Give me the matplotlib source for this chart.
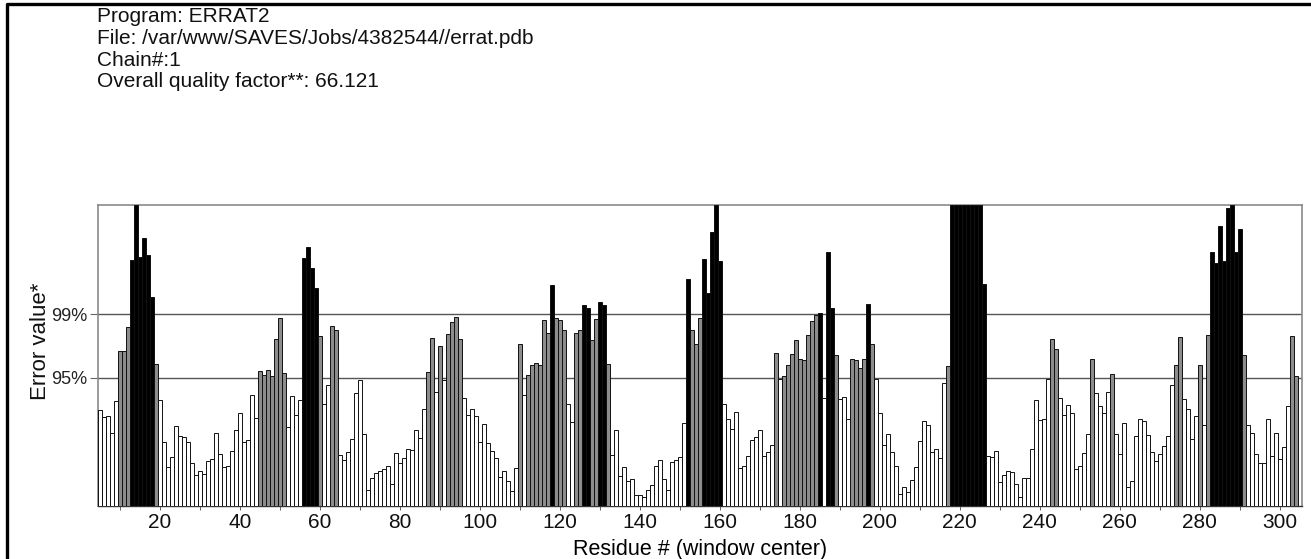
import matplotlib
matplotlib.use("Agg")
import matplotlib.pyplot as plt
from matplotlib.lines import Line2D
import numpy as np

# ---------------- data ----------------
first_residue = 5
error_values = [
    8.59, 7.99, 8.05, 6.59, 9.40, 13.92, 13.92, 16.04, 22.06, 27.00,   # 5-14
    22.36, 24.01, 22.51, 18.77, 12.78, 9.49, 5.75, 3.50, 4.40, 7.18,   # 15-24
    6.26, 6.20, 5.72, 3.89, 2.81, 3.11, 2.90, 4.04, 4.25, 6.53,        # 25-34
    4.64, 3.50, 3.59, 4.97, 6.79, 8.35, 5.72, 5.96, 9.94, 7.90,        # 35-44
    12.09, 11.79, 12.21, 11.64, 14.94, 16.82, 11.97, 7.09, 9.85, 8.14, # 45-54
    9.49, 22.27, 23.20, 21.31, 19.52, 15.27, 9.13, 10.84, 16.16, 15.83,# 55-64
    4.61, 4.16, 4.85, 5.99, 10.18, 11.28, 6.44, 1.47, 2.51, 2.96,      # 65-74
    3.14, 3.29, 3.59, 2.01, 4.76, 3.86, 4.31, 5.15, 5.00, 6.79,        # 75-84
    6.11, 8.74, 12.03, 15.03, 10.24, 14.34, 11.28, 15.39, 16.52, 16.97,# 85-94
    14.97, 9.73, 8.14, 8.74, 8.05, 5.75, 7.33, 5.69, 4.97, 4.31,       # 95-104
    2.57, 3.17, 2.27, 1.38, 3.41, 14.49, 9.94, 11.73, 12.63, 12.84,    # 105-114
    12.69, 16.64, 15.54, 19.82, 16.88, 16.64, 15.75, 9.19, 7.54, 15.48,# 115-124
    15.83, 18.02, 17.72, 14.85, 16.73, 18.32, 18.02, 12.78, 4.61, 6.79,# 125-134
    2.66, 3.50, 2.24, 2.45, 1.02, 1.02, 0.81, 1.47, 1.86, 3.59,        # 135-144
    4.16, 2.45, 1.47, 3.95, 4.16, 4.40, 7.45, 20.35, 15.83, 14.52,     # 145-154
    16.88, 22.12, 19.07, 24.55, 27.00, 21.97, 9.13, 7.78, 6.88, 8.44,  # 155-164
    3.41, 3.59, 4.49, 5.96, 6.20, 6.85, 4.49, 4.85, 5.51, 13.68,       # 165-174
    11.37, 11.64, 12.63, 13.59, 14.88, 13.23, 13.08, 15.33, 16.61, 17.12,  # 175-184
    17.33, 9.73, 22.81, 17.72, 13.53, 9.64, 9.79, 7.84, 13.23, 13.08, # 185-194
    12.39, 13.23, 18.08, 14.52, 11.37, 8.38, 5.51, 6.47, 4.85, 3.59,   # 195-204
    1.11, 1.71, 1.26, 2.36, 3.50, 5.84, 7.66, 7.24, 4.85, 5.09,        # 205-214
    4.34, 10.99, 12.57, 27.00, 27.00, 27.00, 27.00, 27.00, 27.00, 27.00,   # 215-224
    27.00, 19.88, 4.49, 4.37, 4.91, 2.16, 2.81, 3.11, 3.05, 2.01,      # 225-234
    0.81, 2.54, 2.54, 5.09, 9.49, 7.69, 7.78, 11.37, 14.94, 14.04,     # 235-244
    9.73, 8.14, 9.04, 8.38, 3.35, 3.56, 4.76, 6.44, 13.17, 10.18,      # 245-254
    8.95, 8.38, 10.24, 11.82, 6.44, 4.70, 7.45, 1.68, 2.24, 6.29,      # 255-264
    7.78, 7.60, 6.35, 4.85, 4.04, 4.64, 5.39, 6.26, 10.84, 12.69,      # 265-274
    15.18, 9.64, 8.74, 5.99, 8.05, 12.63, 7.24, 15.33, 22.75, 21.76,   # 275-284
    25.14, 21.97, 26.76, 27.00, 22.81, 24.84, 13.53, 7.30, 6.56, 4.64, # 285-294
    3.86, 3.86, 7.78, 4.49, 6.56, 4.19, 5.30, 8.95, 15.27, 11.64,      # 295-304
]
residues = np.arange(first_residue, first_residue + len(error_values))

limit_95 = 11.5
limit_99 = 17.2
y_max = 27.0
y_tick_labels = ["95%", "99%"]
x_major_ticks = list(range(20, 301, 20))
x_minor_ticks = list(range(10, 301, 20))

header_lines = [
    "Program: ERRAT2",
    "File: /var/www/SAVES/Jobs/4382544//errat.pdb",
    "Chain#:1",
    "Overall quality factor**: 66.121",
]

# ---------------- figure ----------------
plt.rcParams["font.family"] = ["Liberation Sans", "DejaVu Sans"]
W, H = 1311, 559
fig = plt.figure(figsize=(W / 100, H / 100), dpi=100)
fig.patch.set_facecolor("white")

# outer black frame (only the left and top edges fall inside the image)
fig.add_artist(Line2D([7 / W, 7 / W, 1.0], [0.0, 1 - 4 / H, 1 - 4 / H],
                      transform=fig.transFigure, color="black", linewidth=2.4))

ax = fig.add_axes([98 / W, 1 - 506 / H, (1301.5 - 98) / W, (506 - 205) / H])

vals = np.array(error_values)
colors = np.where(vals > limit_99, "#000000",
                  np.where(vals > limit_95, "#8c8c8c", "#ffffff"))

ax.bar(residues, np.minimum(vals, y_max), width=1.0, color=colors,
       edgecolor="#111111", linewidth=0.7, zorder=3)

for lim in (limit_95, limit_99):
    ax.axhline(lim, color="#555555", linewidth=1.0, zorder=1)

ax.set_xlim(4.5, 305.5)
ax.set_ylim(0, y_max)

for side in ("top", "left", "right"):
    ax.spines[side].set_color("#8a8a8a")
    ax.spines[side].set_linewidth(1.2)
ax.spines["bottom"].set_color("#333333")
ax.spines["bottom"].set_linewidth(1.0)

ax.set_yticks([limit_95, limit_99])
ax.set_yticklabels(y_tick_labels, fontsize=13, color="#222222")
ax.tick_params(axis="y", direction="out", length=6, width=0.8, color="#666666", pad=2)

ax.set_xticks(x_major_ticks)
ax.set_xticklabels([str(t) for t in x_major_ticks], fontsize=15, color="#111111")
ax.set_xticks(x_minor_ticks, minor=True)
ax.tick_params(axis="x", which="both", direction="out", length=3, width=0.7,
               color="#666666", pad=2)

ax.set_xlabel("Residue # (window center)", fontsize=15.5, labelpad=5)
fig.text(40 / W, 1 - 341 / H, "Error value*", fontsize=16, rotation=90,
         ha="center", va="center", color="#111111")

for i, line in enumerate(header_lines):
    fig.text(97 / W, 1 - (22.5 + 21.6 * i) / H, line, fontsize=15,
             ha="left", va="baseline", color="#111111")

fig.savefig("out.png", dpi=100)
